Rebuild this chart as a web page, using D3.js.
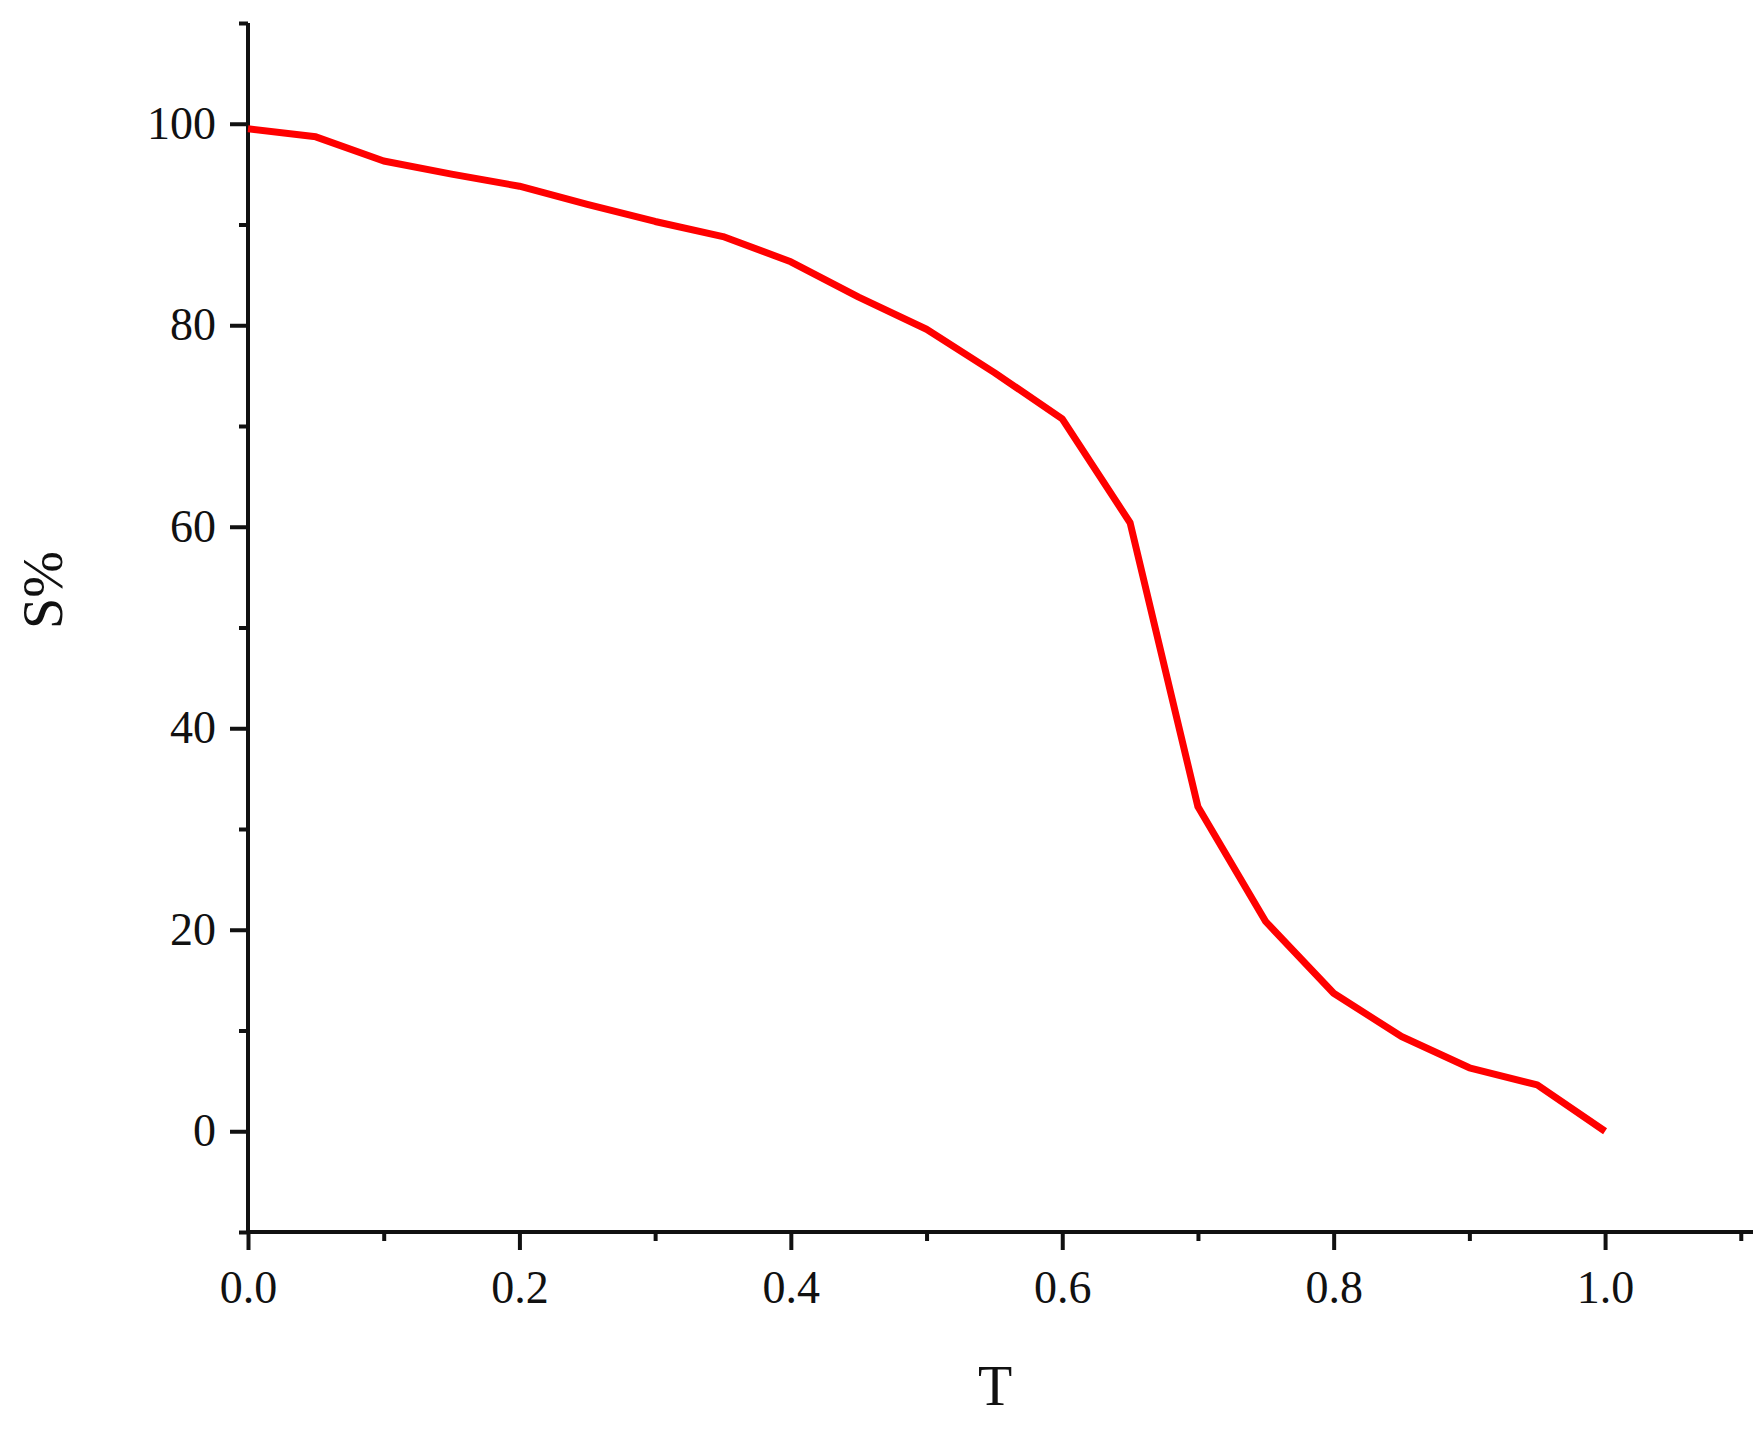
<!DOCTYPE html>
<html><head><meta charset="utf-8">
<script src="https://cdn.jsdelivr.net/npm/d3@7"></script>
<style>body{margin:0;background:#fff}</style>
</head><body>
<svg id="chart" width="1764" height="1433"></svg>
<script>
const tValues = [0,0.05,0.1,0.15,0.2,0.25,0.3,0.35,0.4,0.45,0.5,0.55,0.6,0.65,0.7,0.75,0.8,0.85,0.9,0.95,1.0];
const sValues = [99.5,98.7,96.3,95,93.8,92,90.3,88.8,86.3,82.8,79.6,75.3,70.7,60.4,32.2,20.8,13.7,9.4,6.3,4.6,0];
const xTicks = [0,0.2,0.4,0.6,0.8,1.0];
const yTicks = [0,20,40,60,80,100];

const svg = d3.select("#chart");
const x = d3.scaleLinear().domain([0,1.109]).range([248,1753]);
const y = d3.scaleLinear().domain([-10,110]).range([1232,23]);
const font = "'Liberation Serif', 'Times New Roman', serif";

// y axis
const yAxis = svg.append("g").attr("transform",`translate(${x(0)},0)`)
  .call(d3.axisLeft(y).tickValues(yTicks).tickSize(18).tickPadding(14).tickFormat(d3.format("d")));
yAxis.append("g").call(d3.axisLeft(y).tickValues(d3.range(-10,111,20)).tickSize(9).tickFormat(""));
// x axis
const xAxis = svg.append("g").attr("transform",`translate(0,${y(-10)})`)
  .call(d3.axisBottom(x).tickValues(xTicks).tickSize(18).tickPadding(20).tickFormat(d3.format(".1f")));
xAxis.append("g").call(d3.axisBottom(x).tickValues([0.1,0.3,0.5,0.7,0.9,1.1]).tickSize(9).tickFormat(""));

svg.selectAll(".domain").attr("stroke","#111").attr("stroke-width",4);
svg.selectAll(".tick line").attr("stroke","#111").attr("stroke-width",4);
svg.selectAll(".tick text").attr("font-family",font).attr("font-size",46).attr("fill","#111");
yAxis.selectAll(".domain").attr("d",`M0,${y(-10)}V${y(110)}`);
xAxis.selectAll(".domain").attr("d",`M${x(0)},0H${x(1.109)}`);

svg.append("path")
  .datum(tValues.map((t,i)=>[t,sValues[i]]))
  .attr("fill","none").attr("stroke","#ff0000").attr("stroke-width",7)
  .attr("stroke-linejoin","round")
  .attr("d",d3.line().x(d=>x(d[0])).y(d=>y(d[1])));

svg.append("text").attr("x",995).attr("y",1405).attr("text-anchor","middle")
  .attr("font-family",font).attr("font-size",56).attr("fill","#111").text("T");
svg.append("text").attr("transform","translate(62,590) rotate(-90)").attr("text-anchor","middle")
  .attr("font-family",font).attr("font-size",56).attr("fill","#111").text("S%");
</script>
</body></html>
